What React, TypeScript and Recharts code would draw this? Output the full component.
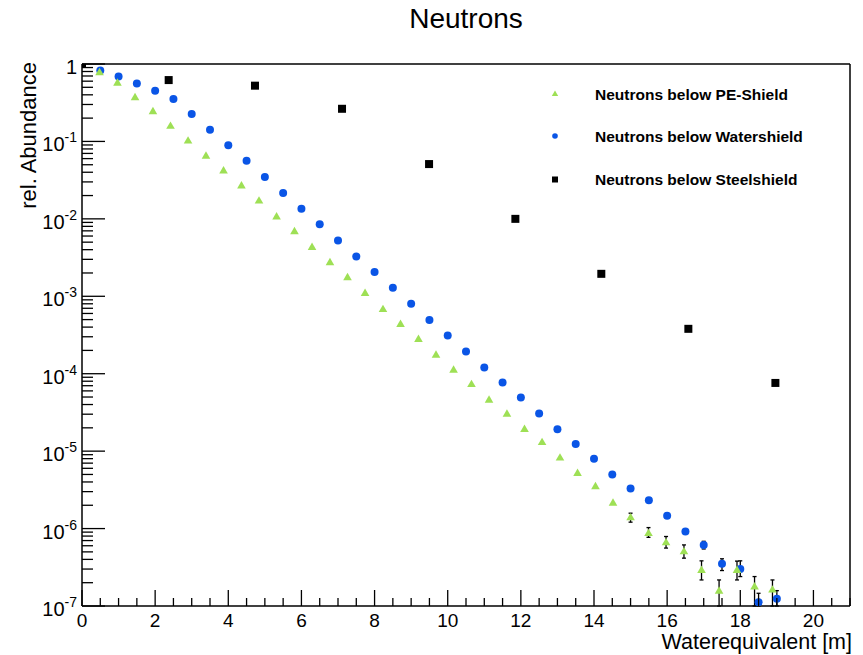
import React from "react";
import {
  ScatterChart,
  Scatter,
  XAxis,
  YAxis,
  ErrorBar,
  ReferenceLine,
  Customized,
} from "recharts";

const FONT = "'Liberation Sans', Arial, Helvetica, sans-serif";

const PE_COLOR = "#9ee055";
const WATER_COLOR = "#0a55e6";
const STEEL_COLOR = "#000000";

const seriesNames = [
  "Neutrons below PE-Shield",
  "Neutrons below Watershield",
  "Neutrons below Steelshield",
];

// PE-Shield (triangles)
const peX = [
  0.48, 0.97, 1.45, 1.94, 2.42, 2.9, 3.39, 3.87, 4.36, 4.84, 5.32, 5.81, 6.29,
  6.78, 7.26, 7.74, 8.23, 8.71, 9.2, 9.68, 10.16, 10.65, 11.13, 11.62, 12.1,
  12.58, 13.07, 13.55, 14.04, 14.52, 15.0, 15.49, 15.97, 16.46, 16.94, 17.42,
  17.91, 18.39, 18.88,
];
const peY = [
  0.78, 0.57, 0.37, 0.244, 0.158, 0.102, 0.065, 0.042, 0.0268, 0.0171, 0.0107,
  0.00688, 0.00432, 0.00274, 0.00175, 0.0011, 6.8e-4, 4.37e-4, 2.8e-4, 1.75e-4,
  1.12e-4, 7.3e-5, 4.6e-5, 3.03e-5, 1.92e-5, 1.3e-5, 8.2e-6, 5.2e-6, 3.5e-6,
  2.15e-6, 1.39e-6, 8.7e-7, 6.6e-7, 5.05e-7, 2.9e-7, 1.57e-7, 2.9e-7, 1.78e-7,
  1.62e-7,
];

// Watershield (circles)
const waterX = [
  0.5, 1, 1.5, 2, 2.5, 3, 3.5, 4, 4.5, 5, 5.5, 6, 6.5, 7, 7.5, 8, 8.5, 9, 9.5,
  10, 10.5, 11, 11.5, 12, 12.5, 13, 13.5, 14, 14.5, 15, 15.5, 16, 16.5, 17,
  17.5, 18, 18.5, 19,
];
const waterY = [
  0.826, 0.69, 0.56, 0.45, 0.353, 0.226, 0.142, 0.089, 0.0563, 0.0347, 0.0215,
  0.0135, 0.0085, 0.00526, 0.00327, 0.00206, 0.00129, 8.0e-4, 4.93e-4, 3.12e-4,
  1.94e-4, 1.2e-4, 7.7e-5, 4.93e-5, 3.06e-5, 1.92e-5, 1.24e-5, 8.0e-6, 5.0e-6,
  3.3e-6, 2.33e-6, 1.46e-6, 9.2e-7, 6.15e-7, 3.5e-7, 3.0e-7, 1.12e-7, 1.24e-7,
];

// Steelshield (squares)
const steelX = [0, 2.37, 4.73, 7.11, 9.49, 11.85, 14.2, 16.58, 18.96];
const steelY = [1, 0.62, 0.525, 0.264, 0.051, 0.01, 0.00195, 3.8e-4, 7.6e-5];

// error bars (only where they are visible)
const peErrX = [15.0, 15.49, 15.97, 16.46, 16.94, 17.42, 17.91, 18.39, 18.88];
const peErrY = [1.39e-6, 8.7e-7, 6.6e-7, 5.05e-7, 2.9e-7, 1.57e-7, 2.9e-7, 1.78e-7, 1.62e-7];
const peErrLow = [1.8e-7, 1.0e-7, 1.0e-7, 0.9e-7, 0.73e-7, 0.57e-7, 0.73e-7, 0.78e-7, 0.62e-7];
const peErrHigh = [1.9e-7, 1.6e-7, 1.3e-7, 1.1e-7, 0.93e-7, 0.6e-7, 0.9e-7, 0.62e-7, 0.55e-7];

const waterErrX = [17, 17.5, 18, 18.5, 19];
const waterErrY = [6.15e-7, 3.5e-7, 3.0e-7, 1.12e-7, 1.24e-7];
const waterErrLow = [0.7e-7, 0.63e-7, 0.6e-7, 0.12e-7, 0.24e-7];
const waterErrHigh = [0.7e-7, 0.57e-7, 0.83e-7, 0.34e-7, 0.34e-7];

const xMajorTicks = [0, 2, 4, 6, 8, 10, 12, 14, 16, 18, 20];
const yMajorTicks = [1e-7, 1e-6, 1e-5, 1e-4, 1e-3, 1e-2, 1e-1, 1];

const xTicks: number[] = [];
xMajorTicks.forEach((t) => {
  for (let i = 0; i < 4; i++) xTicks.push(t + i * 0.5);
});
const yTicks: number[] = [];
yMajorTicks.forEach((t, idx) => {
  yTicks.push(t);
  if (idx < yMajorTicks.length - 1) {
    for (let m = 2; m <= 9; m++) yTicks.push(m * t);
  }
});

const peData = peX.map((x, i) => ({ x, y: peY[i] }));
const waterData = waterX.map((x, i) => ({ x, y: waterY[i] }));
const steelData = steelX.map((x, i) => ({ x, y: steelY[i] }));
const peErrData = peErrX.map((x, i) => ({ x, y: peErrY[i], err: [peErrLow[i], peErrHigh[i]] }));
const waterErrData = waterErrX.map((x, i) => ({
  x,
  y: waterErrY[i],
  err: [waterErrLow[i], waterErrHigh[i]],
}));

function Triangle({ cx, cy, fill }: any) {
  return (
    <polygon
      points={`${cx},${cy - 4.6} ${cx - 4.3},${cy + 2.8} ${cx + 4.3},${cy + 2.8}`}
      fill={fill}
    />
  );
}
function Circle({ cx, cy, fill }: any) {
  return <circle cx={cx} cy={cy} r={4} fill={fill} />;
}
function Square({ cx, cy, fill }: any) {
  return <rect x={cx - 4} y={cy - 4} width={8} height={8} fill={fill} />;
}

function XTick({ x, y, payload }: any) {
  const v = payload.value;
  const major = Math.abs(v % 2) < 1e-9;
  return (
    <g>
      <line x1={x} x2={x} y1={y} y2={y - (major ? 16 : 8)} stroke="#000" strokeWidth={1.3} />
      {major && (
        <text x={x} y={y + 21} textAnchor="middle" fontSize={19} fontFamily={FONT} fill="#000">
          {v}
        </text>
      )}
    </g>
  );
}

function YTick({ x, y, payload }: any) {
  const v = payload.value;
  const exp = Math.round(Math.log10(v));
  const major = Math.abs(v - Math.pow(10, exp)) / v < 1e-6;
  return (
    <g>
      <line x1={x} x2={x + (major ? 23 : 11)} y1={y} y2={y} stroke="#000" strokeWidth={1.3} />
      {major && (
        <text x={x - 5} y={y + 10} textAnchor="end" fontSize={20} fontFamily={FONT} fill="#000">
          {exp === 0 ? (
            "1"
          ) : (
            <>
              <tspan>10</tspan>
              <tspan dy={-9} fontSize={14}>
                {exp}
              </tspan>
            </>
          )}
        </text>
      )}
    </g>
  );
}

function Decorations() {
  const markers = [
    <polygon key="t" points="555,90.5 551.8,96 558.2,96" fill={PE_COLOR} />,
    <circle key="c" cx={555} cy={136} r={2.8} fill={WATER_COLOR} />,
    <rect key="s" x={552} y={176.5} width={6} height={6} fill={STEEL_COLOR} />,
  ];
  const baselines = [99.5, 141.5, 185];
  return (
    <g fontFamily={FONT}>
      <text x={466} y={28} textAnchor="middle" fontSize={28} fill="#000">
        Neutrons
      </text>
      <text
        transform="translate(36,62) rotate(-90)"
        textAnchor="end"
        fontSize={22}
        fill="#000"
      >
        rel. Abundance
      </text>
      <text x={852} y={649} textAnchor="end" fontSize={21.5} fill="#000">
        Waterequivalent [m]
      </text>
      {seriesNames.map((name, i) => (
        <g key={name}>
          {markers[i]}
          <text x={595} y={baselines[i]} fontSize={15.5} fontWeight="bold" fill="#000">
            {name}
          </text>
        </g>
      ))}
    </g>
  );
}

export default function App() {
  return (
    <div
      style={{
        position: "absolute",
        left: 0,
        top: 0,
        width: 863,
        height: 655,
        background: "#fff",
      }}
    >
      <ScatterChart
        width={863}
        height={655}
        margin={{ top: 64, right: 13, bottom: 48, left: 81 }}
      >
        <XAxis
          type="number"
          dataKey="x"
          domain={[0, 21]}
          ticks={xTicks}
          interval={0}
          allowDataOverflow
          height={1}
          tickSize={0}
          tickMargin={0}
          tickLine={false}
          tick={<XTick />}
          axisLine={{ stroke: "#000", strokeWidth: 1.5 }}
        />
        <YAxis
          type="number"
          dataKey="y"
          scale="log"
          domain={[1e-7, 1]}
          ticks={yTicks}
          interval={0}
          allowDataOverflow
          width={1}
          tickSize={0}
          tickMargin={0}
          tickLine={false}
          tick={<YTick />}
          axisLine={{ stroke: "#000", strokeWidth: 1.5 }}
        />
        <ReferenceLine y={1} stroke="#000" strokeWidth={1.5} />
        <ReferenceLine x={21} stroke="#000" strokeWidth={1.5} />
        <Scatter
          name={seriesNames[2]}
          data={steelData}
          fill={STEEL_COLOR}
          shape={<Square />}
          isAnimationActive={false}
        />
        <Scatter
          name={seriesNames[1]}
          data={waterData}
          fill={WATER_COLOR}
          shape={<Circle />}
          isAnimationActive={false}
        />
        <Scatter
          name={seriesNames[0]}
          data={peData}
          fill={PE_COLOR}
          shape={<Triangle />}
          isAnimationActive={false}
        />
        <Scatter
          data={waterErrData}
          shape={() => <g />}
          isAnimationActive={false}
          legendType="none"
        >
          <ErrorBar dataKey="err" direction="y" width={2} stroke="#000" strokeWidth={1.3} isAnimationActive={false} />
        </Scatter>
        <Scatter
          data={peErrData}
          shape={() => <g />}
          isAnimationActive={false}
          legendType="none"
        >
          <ErrorBar dataKey="err" direction="y" width={2} stroke="#000" strokeWidth={1.3} isAnimationActive={false} />
        </Scatter>
        <Customized component={Decorations} />
      </ScatterChart>
    </div>
  );
}
